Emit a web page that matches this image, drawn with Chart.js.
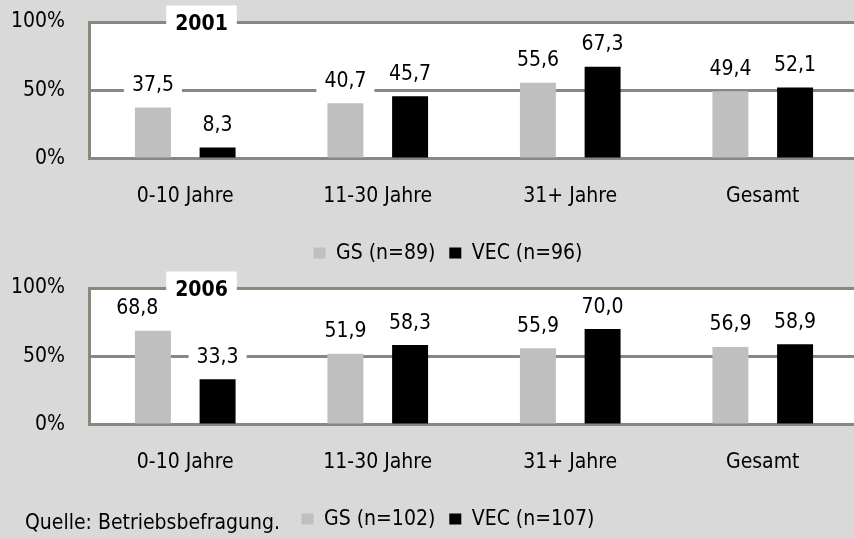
<!DOCTYPE html>
<html>
<head>
<meta charset="utf-8">
<script src="https://cdn.jsdelivr.net/npm/chart.js@4.4.1/dist/chart.umd.min.js"></script>
<style>
  html, body { margin: 0; padding: 0; }
  body { width: 854px; height: 538px; overflow: hidden; position: relative; background: #d9d9d9; }
  canvas { position: absolute; left: 0; }
  #c2001 { top: 0; }
  #c2006 { top: 266px; }
  #source { position: absolute; left: 25px; top: 510px; font: 21px 'DejaVu Sans Condensed', 'DejaVu Sans', sans-serif; line-height: 25px; color: #000; white-space: nowrap; }
</style>
</head>
<body>
<canvas id="c2001" width="896" height="274"></canvas>
<canvas id="c2006" width="896" height="274"></canvas>
<div id="source">Quelle: Betriebsbefragung.</div>
<script>
// Age groups of the firms (Betriebsalter) plus the overall value
const categories = ['0-10 Jahre', '11-30 Jahre', '31+ Jahre', 'Gesamt'];

// Shares in percent, survey 2001
const gs2001 = [37.5, 40.7, 55.6, 49.4];
const vec2001 = [8.3, 45.7, 67.3, 52.1];

// Shares in percent, survey 2006
const gs2006 = [68.8, 51.9, 55.9, 56.9];
const vec2006 = [33.3, 58.3, 70.0, 58.9];

// Series names with sample sizes
const names2001 = ['GS (n=89)', 'VEC (n=96)'];
const names2006 = ['GS (n=102)', 'VEC (n=107)'];

// Value axis ticks
const yTicks = [0, 50, 100];

const FONT = "'DejaVu Sans Condensed', 'DejaVu Sans', sans-serif";
const FS = 21;
const GS_COLOR = '#bfbfbf';
const VEC_COLOR = '#000000';
const GRID_GRAY = '#878787';
const FRAME_OLIVE = '#88887c';

Chart.defaults.font.family = FONT;
Chart.defaults.font.size = FS;
Chart.defaults.color = '#000';

// Box of the year caption, shared by the caption and the value labels
function captionBox(chart, text) {
  const { ctx, chartArea: a } = chart;
  ctx.save();
  ctx.font = 'bold ' + FS + 'px ' + FONT;
  const w = ctx.measureText(text).width + 18;
  ctx.restore();
  const cx = a.left + 112.5;
  return { cx, left: cx - w / 2, right: cx + w / 2, top: a.top - 16.5, bottom: a.top + 13.5, w };
}

// White plot area behind the bars
const plotBackground = {
  id: 'plotBackground',
  beforeDraw(chart) {
    const { ctx, chartArea: a } = chart;
    ctx.save();
    ctx.fillStyle = '#ffffff';
    ctx.fillRect(a.left, a.top, a.right - a.left, a.bottom - a.top);
    ctx.restore();
  }
};

// Value labels on white boxes above each bar, nudged aside from the caption
const valueLabels = {
  id: 'valueLabels',
  afterDatasetsDraw(chart) {
    const { ctx } = chart;
    const cap = captionBox(chart, chart.options.plugins.yearCaption.text);
    ctx.save();
    ctx.font = FS + 'px ' + FONT;
    ctx.textAlign = 'center';
    ctx.textBaseline = 'middle';
    chart.data.datasets.forEach((ds, di) => {
      chart.getDatasetMeta(di).data.forEach((bar, i) => {
        const txt = ds.data[i].toFixed(1).replace('.', ',');
        const w = ctx.measureText(txt).width + 16;
        const cy = bar.y - 23;
        let cx = bar.x;
        const overlaps = cx + w / 2 > cap.left && cx - w / 2 < cap.right &&
                         cy - 12 < cap.bottom && cy + 12 > cap.top;
        if (overlaps) cx = cap.left - w / 2;
        ctx.fillStyle = '#ffffff';
        ctx.fillRect(cx - w / 2, cy - 12, w, 24);
        ctx.fillStyle = '#000';
        ctx.fillText(txt, cx, cy + 1);
      });
    });
    ctx.restore();
  }
};

// Year caption sitting on the top frame line
const yearCaption = {
  id: 'yearCaption',
  afterDraw(chart, args, opts) {
    const { ctx, chartArea: a } = chart;
    const cap = captionBox(chart, opts.text);
    ctx.save();
    ctx.font = 'bold ' + FS + 'px ' + FONT;
    ctx.textAlign = 'center';
    ctx.textBaseline = 'middle';
    ctx.fillStyle = '#ffffff';
    ctx.fillRect(cap.left, cap.top, cap.w, cap.bottom - cap.top);
    ctx.fillStyle = '#000';
    ctx.fillText(opts.text, cap.cx, a.top + 2.5);
    ctx.restore();
  }
};

function makeChart(id, year, gs, vec, names) {
  return new Chart(document.getElementById(id), {
    type: 'bar',
    data: {
      labels: categories,
      datasets: [
        { label: names[0], data: gs, backgroundColor: GS_COLOR, borderWidth: 0 },
        { label: names[1], data: vec, backgroundColor: VEC_COLOR, borderWidth: 0 }
      ]
    },
    options: {
      responsive: false,
      animation: false,
      events: [],
      layout: { padding: { left: 0, right: 0, top: 22, bottom: 0.4 } },
      datasets: { bar: { categoryPercentage: 0.672, barPercentage: 0.556 } },
      scales: {
        x: {
          z: 1,
          grid: { display: false, drawTicks: false },
          border: { display: true, color: GRID_GRAY, width: 3 },
          ticks: { padding: 25, color: '#000' },
          afterFit(scale) {
            scale.height = 69.7;
            scale.paddingLeft = 0;
            scale.paddingRight = 0;
          }
        },
        y: {
          min: 0,
          max: 100,
          afterBuildTicks(scale) { scale.ticks = yTicks.map(v => ({ value: v })); },
          grid: {
            drawTicks: false,
            lineWidth: 3,
            color: ctx => (ctx.tick && ctx.tick.value === 100) ? FRAME_OLIVE : GRID_GRAY
          },
          border: { display: true, color: FRAME_OLIVE, width: 3 },
          ticks: {
            padding: 24,
            color: '#000',
            callback: v => v + '%'
          },
          afterFit(scale) {
            scale.width = 89;
            scale.paddingTop = 0;
            scale.paddingBottom = 0;
          }
        },
        // empty spacer on the right so the plot runs past the page edge
        yRight: {
          position: 'right',
          min: 0,
          max: 100,
          grid: { display: false, drawTicks: false },
          border: { display: false },
          ticks: { display: false },
          afterFit(scale) {
            scale.width = 37;
            scale.paddingTop = 0;
            scale.paddingBottom = 0;
          }
        }
      },
      plugins: {
        legend: {
          position: 'bottom',
          labels: {
            boxWidth: 12,
            boxHeight: 11,
            padding: 14,
            color: '#000'
          }
        },
        tooltip: { enabled: false },
        yearCaption: { text: year }
      }
    },
    plugins: [plotBackground, valueLabels, yearCaption]
  });
}

makeChart('c2001', '2001', gs2001, vec2001, names2001);
makeChart('c2006', '2006', gs2006, vec2006, names2006);
</script>
</body>
</html>
